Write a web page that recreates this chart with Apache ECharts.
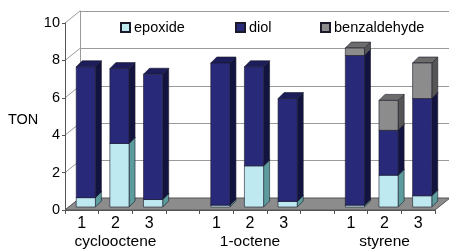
<!DOCTYPE html>
<html lang="en">

<head>
  <meta charset="UTF-8">
  <title>TON</title>
  <script src="https://cdn.jsdelivr.net/npm/echarts@6/dist/echarts.min.js"></script>
  <style>
    html, body { margin: 0; padding: 0; background: #fff; }
    #chart { width: 449px; height: 250px; }
  </style>
</head>

<body>
  <div id="chart"></div>

  <script>
    // 11 slots: three groups of three runs, with an empty slot between groups
    const runs = ['1', '2', '3', '', '1', '2', '3', '', '1', '2', '3']
    const groups = ['', 'cyclooctene', '', '', '', '1-octene', '', '', '', 'styrene', '']
    const seriesNames = ['epoxide', 'diol', 'benzaldehyde']
    const epoxide = [0.5, 3.4, 0.4, null, 0.1, 2.2, 0.3, null, 0.1, 1.7, 0.6]
    const diol = [7.0, 4.0, 6.7, null, 7.6, 5.3, 5.5, null, 8.0, 2.4, 5.2]
    const benzaldehyde = [0, 0, 0, null, 0, 0, 0, null, 0.4, 1.6, 1.9]
    const yTicks = [0, 2, 4, 6, 8, 10]

    const faceColors = [
      { front: '#bfe9f1', side: '#5c9c9c', top: '#8fc4c8' },
      { front: '#29297a', side: '#13133f', top: '#1d1d5c' },
      { front: '#8c8c8c', side: '#555555', top: '#6c6c6c' }
    ]
    const edge = '#1a1a2a'
    const depth = [6, -6]

    function renderBar(params, api) {
      const i = api.value(0)
      const base = api.value(1)
      const val = api.value(2)
      if (!val) return
      const c = faceColors[params.seriesIndex]
      const p0 = api.coord([i, base])
      const p1 = api.coord([i, base + val])
      const w = api.size([1, 0])[0] * 0.57
      const L = p0[0] - w / 2, R = p0[0] + w / 2
      const yb = p0[1], yt = p1[1]
      const dx = depth[0], dy = depth[1]
      const st = { stroke: edge, lineWidth: 0.6 }
      return {
        type: 'group',
        children: [
          { type: 'polygon', shape: { points: [[R, yb], [R, yt], [R + dx, yt + dy], [R + dx, yb + dy]] },
            style: Object.assign({ fill: c.side }, st) },
          { type: 'polygon', shape: { points: [[L, yt], [R, yt], [R + dx, yt + dy], [L + dx, yt + dy]] },
            style: Object.assign({ fill: c.top }, st) },
          { type: 'rect', shape: { x: L, y: yt, width: w, height: yb - yt },
            style: Object.assign({ fill: c.front }, st) }
        ]
      }
    }

    // stack bases
    const stacks = [epoxide, diol, benzaldehyde]
    const series = stacks.map((arr, s) => ({
      name: seriesNames[s],
      type: 'custom',
      xAxisIndex: 0,
      yAxisIndex: 0,
      z: 2 + s,
      itemStyle: { color: faceColors[s].front, borderColor: edge, borderWidth: 1 },
      renderItem: renderBar,
      data: arr.map((v, i) => {
        if (v === null) return [i, 0, 0]
        let base = 0
        for (let k = 0; k < s; k++) base += stacks[k][i] || 0
        return [i, base, v]
      })
    }))

    const chart = echarts.init(document.getElementById('chart'))
    const font = 'Liberation Sans, Arial, sans-serif'
    const frontGrid = { left: 65, width: 370, top: 23, height: 187 }

    chart.setOption({
      animation: false,
      backgroundColor: '#fff',
      textStyle: { fontFamily: font },
      grid: [
        { left: 69, width: 370, top: 20, height: 187 },   // bars (front of bars)
        frontGrid,                                        // front axis / floor front
        { left: 80, width: 380, top: 11, height: 187 },   // back wall
        Object.assign({}, frontGrid)                      // group names row
      ],
      xAxis: [
        { gridIndex: 0, type: 'category', data: runs, show: false },
        {
          gridIndex: 1, type: 'category', data: runs,
          axisLine: { lineStyle: { color: '#555', width: 1 } },
          axisTick: { show: true, length: 4, lineStyle: { color: '#555' } },
          axisLabel: { color: '#000', fontSize: 16, lineHeight: 16, margin: 6, interval: 0, fontFamily: font }
        },
        { gridIndex: 2, type: 'category', data: runs, show: false },
        {
          gridIndex: 3, type: 'category', data: groups,
          axisLine: { show: false },
          axisTick: { show: false },
          axisLabel: { color: '#000', fontSize: 15.5, lineHeight: 16, margin: 26, interval: 0, fontFamily: font }
        }
      ],
      yAxis: [
        { gridIndex: 0, type: 'value', min: 0, max: 10, show: false },
        {
          gridIndex: 1, type: 'value', min: 0, max: 10, interval: 2,
          axisLine: { show: true, lineStyle: { color: '#555' } },
          axisTick: { show: true, length: 3, lineStyle: { color: '#555' } },
          axisLabel: { color: '#000', fontSize: 14.5, margin: 5, fontFamily: font },
          splitLine: { show: false }
        },
        {
          gridIndex: 2, type: 'value', min: 0, max: 10, interval: 2,
          axisLine: { show: true, lineStyle: { color: '#9a9a9a' } },
          axisTick: { show: false },
          axisLabel: { show: false },
          splitLine: { show: true, lineStyle: { color: '#9a9a9a', width: 1 } }
        },
        { gridIndex: 3, type: 'value', min: 0, max: 10, show: false }
      ],
      legend: seriesNames.map((n, k) => ({
        data: [n],
        left: [120, 235, 320][k],
        top: 20,
        padding: 0,
        itemWidth: 9,
        itemHeight: 9,
        itemGap: 0,
        icon: 'rect',
        textStyle: { fontSize: 14.5, color: '#000', fontFamily: font, padding: [0, 0, 0, -1] },
        selectedMode: false
      })),
      series: series
    })

    // floor, side-wall gridlines and the axis title, placed through the axes
    const fl = chart.convertToPixel({ gridIndex: 1 }, [0, 0])
    const frontLeft = [65, fl[1]]
    const frontRight = [435, fl[1]]
    const backZero = chart.convertToPixel({ gridIndex: 2 }, [0, 0])
    const backLeft = [80, backZero[1]]
    const backRight = [80 + 370, backZero[1]]
    const graphics = [
      {
        type: 'polygon', z: 1,
        shape: { points: [frontLeft, frontRight, backRight, backLeft] },
        style: { fill: '#8c8c8c', stroke: '#555', lineWidth: 1 }
      },
      {
        type: 'text', left: 8, top: 112,
        style: { text: 'TON', fontSize: 14.5, fill: '#000', fontFamily: font }
      }
    ]
    yTicks.forEach(v => {
      const a = chart.convertToPixel({ gridIndex: 1 }, [0, v])
      const b = chart.convertToPixel({ gridIndex: 2 }, [0, v])
      graphics.push({
        type: 'line', z: 0,
        shape: { x1: 65, y1: a[1], x2: 80, y2: b[1] },
        style: { stroke: '#9a9a9a', lineWidth: 1 }
      })
    })
    chart.setOption({ graphic: graphics })
  </script>
</body>

</html>
